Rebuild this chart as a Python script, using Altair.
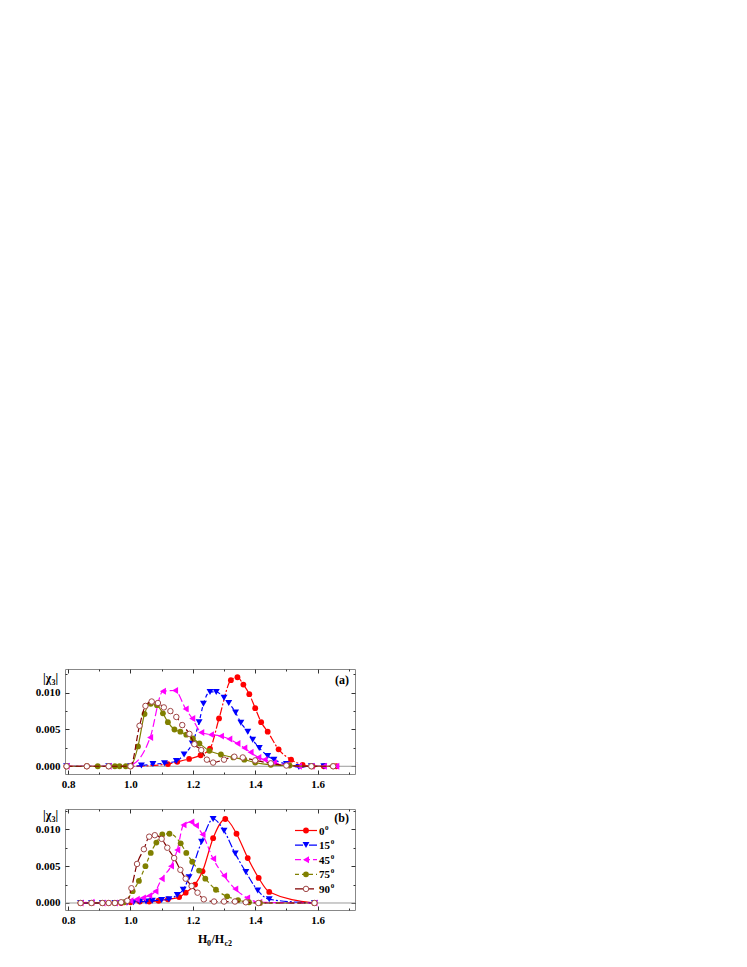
import altair as alt
import pandas as pd

FONT = "Liberation Serif"

# ---------------- data: panel (a) ----------------
a_x_0 = [0.795, 0.86, 1.0, 1.12, 1.15, 1.188, 1.225, 1.255, 1.284, 1.322, 1.343, 1.362, 1.381, 1.40, 1.419, 1.44, 1.475, 1.515, 1.552, 1.584, 1.62, 1.66]
a_y_0 = [0, 0, 0, 0.0003, 0.0006, 0.0010, 0.0015, 0.0024, 0.0065, 0.0117, 0.0121, 0.0111, 0.0098, 0.0079, 0.0060, 0.0047, 0.0023, 0.0009, 0.0002, 0.0, 0, 0]

a_x_15 = [0.795, 0.93, 1.0, 1.035, 1.072, 1.109, 1.147, 1.172, 1.198, 1.22, 1.234, 1.255, 1.275, 1.30, 1.315, 1.337, 1.354, 1.376, 1.392, 1.413, 1.44, 1.46, 1.50, 1.54, 1.58, 1.62]
a_y_15 = [0, 0, 0, 0.0001, 0.0003, 0.0004, 0.0007, 0.0016, 0.0031, 0.0060, 0.0085, 0.0101, 0.0101, 0.0093, 0.0086, 0.0073, 0.0059, 0.0047, 0.0036, 0.0025, 0.0014, 0.0009, 0.0003, -0.0001, 0, 0]

a_x_45 = [0.795, 0.93, 1.0, 1.063, 1.104, 1.143, 1.177, 1.198, 1.227, 1.258, 1.29, 1.317, 1.343, 1.365, 1.385, 1.41, 1.43, 1.46, 1.50, 1.54, 1.58, 1.62, 1.66]
a_y_45 = [0, 0, 0.0002, 0.0039, 0.0102, 0.0103, 0.0078, 0.0065, 0.0046, 0.0043, 0.0041, 0.0037, 0.0031, 0.0025, 0.0019, 0.0012, 0.0009, 0.0005, 0.0002, 0, 0, 0, 0]

a_x_75 = [0.795, 0.86, 0.895, 0.93, 0.95, 0.965, 0.985, 1.0, 1.024, 1.045, 1.065, 1.085, 1.104, 1.12, 1.141, 1.16, 1.179, 1.2, 1.221, 1.253, 1.29, 1.33, 1.365, 1.40, 1.45, 1.51, 1.58, 1.65]
a_y_75 = [0, 0, 0, 0, 0, 0, 0, 0, 0.0027, 0.0071, 0.0085, 0.0083, 0.0072, 0.0060, 0.0050, 0.0047, 0.0043, 0.0038, 0.0031, 0.0021, 0.0016, 0.0012, 0.0009, 0.0005, 0.0002, 0.0001, 0, 0]

a_x_90 = [0.795, 0.86, 0.93, 1.0, 1.029, 1.048, 1.068, 1.088, 1.107, 1.128, 1.147, 1.166, 1.189, 1.205, 1.227, 1.245, 1.265, 1.30, 1.333, 1.36, 1.40, 1.45, 1.50, 1.58, 1.65]
a_y_90 = [0, 0, 0, 0, 0.0055, 0.0082, 0.0088, 0.0086, 0.0080, 0.0075, 0.0067, 0.0056, 0.0044, 0.0030, 0.0022, 0.0009, 0.0005, 0.0009, 0.0013, 0.0012, 0.0008, 0.0004, 0.0001, 0, 0]

# ---------------- data: panel (b) ----------------
b_x_0 = [0.84, 0.875, 0.91, 0.93, 0.95, 0.97, 1.0, 1.03, 1.06, 1.09, 1.12, 1.156, 1.177, 1.207, 1.231, 1.265, 1.304, 1.34, 1.376, 1.411, 1.445, 1.59]
b_y_0 = [0, 0, 0, 0, 0, 0, 0.0001, 0.0002, 0.0002, 0.0003, 0.0005, 0.0008, 0.0014, 0.0025, 0.0043, 0.0088, 0.0114, 0.0094, 0.0061, 0.0034, 0.0015, 0]

b_x_15 = [0.84, 0.875, 0.91, 0.95, 0.97, 0.99, 1.01, 1.03, 1.05, 1.07, 1.10, 1.123, 1.15, 1.169, 1.188, 1.228, 1.265, 1.30, 1.336, 1.37, 1.408, 1.445, 1.59]
b_y_15 = [0, 0, 0, 0, 0, 0.0001, 0.0001, 0.0002, 0.0002, 0.0003, 0.0004, 0.0005, 0.0011, 0.0018, 0.0035, 0.0083, 0.0114, 0.0098, 0.0067, 0.0042, 0.0017, 0.0005, 0]

b_x_45 = [0.84, 0.875, 0.91, 0.95, 0.98, 1.0, 1.02, 1.04, 1.06, 1.08, 1.10, 1.13, 1.15, 1.17, 1.195, 1.21, 1.231, 1.265, 1.30, 1.336, 1.374, 1.413, 1.59]
b_y_45 = [0, 0.0001, 0, 0, 0.0001, 0.0003, 0.0005, 0.0007, 0.0010, 0.0016, 0.0033, 0.0050, 0.0072, 0.0106, 0.0110, 0.0105, 0.0093, 0.0060, 0.0037, 0.0019, 0.0007, 0.0001, 0]

b_x_75 = [0.84, 0.875, 0.91, 0.95, 0.98, 1.007, 1.027, 1.048, 1.065, 1.083, 1.102, 1.125, 1.161, 1.179, 1.198, 1.22, 1.24, 1.274, 1.31, 1.345, 1.38, 1.415, 1.59]
b_y_75 = [0, 0, 0, 0, 0.0001, 0.0016, 0.0030, 0.0050, 0.0068, 0.0082, 0.0093, 0.0094, 0.0081, 0.0068, 0.0056, 0.0044, 0.0033, 0.0018, 0.0009, 0.0004, 0.0001, 0, 0]

b_x_90 = [0.84, 0.875, 0.91, 0.93, 0.95, 0.97, 0.99, 1.003, 1.021, 1.043, 1.06, 1.078, 1.10, 1.118, 1.14, 1.16, 1.177, 1.196, 1.215, 1.235, 1.268, 1.30, 1.335, 1.37, 1.41, 1.59]
b_y_90 = [0, 0, 0, 0, 0, 0.0001, 0.0003, 0.0020, 0.0053, 0.0073, 0.0090, 0.0092, 0.0087, 0.0075, 0.0061, 0.0045, 0.0033, 0.0023, 0.0014, 0.0005, 0.0002, 0.0002, 0.0002, 0.0001, 0, 0]

labels = ["0", "15", "45", "75", "90"]
colors = ["#FF0000", "#0000FF", "#FF00FF", "#808000", "#800000"]
shapes = ["circle", "triangle-down", "triangle-left", "circle", "circle"]
filled = [True, True, True, True, False]
sizes = [34, 48, 48, 34, 30]
dash_a = [[8, 2, 2, 2], [4, 3], [8, 3], None, [6, 3]]
dash_b = [None, [8, 2, 2, 2], [6, 3], [4, 3], [8, 3]]

x_ticks_major = [0.8, 1.0, 1.2, 1.4, 1.6]
x_ticks_minor = [0.9, 1.1, 1.3, 1.5, 1.7]
y_ticks_major = [0.0, 0.005, 0.010]
y_ticks_minor = [0.0025, 0.0075, 0.0125]

W = 290
one = pd.DataFrame({"k": [0]})


def point_kw(i):
    kw = dict(shape=shapes[i], filled=filled[i], color=colors[i], size=sizes[i], opacity=1, strokeWidth=1)
    if not filled[i]:
        kw["color"] = "#a04848"
        kw["fill"] = "white"
        kw["fillOpacity"] = 1
    return kw


def series_layers(xv, yv, i, dash, xsc, ysc):
    df = pd.DataFrame({"x": xv, "y": yv})
    base = alt.Chart(df).encode(
        x=alt.X("x:Q", scale=xsc, axis=None),
        y=alt.Y("y:Q", scale=ysc, axis=None),
    )
    lkw = dict(color=colors[i], strokeWidth=1.2, interpolate="monotone")
    if dash is not None:
        lkw["strokeDash"] = dash
    line = base.mark_line(**lkw)
    pts = base.mark_point(**point_kw(i))
    return [line, pts]


def axis_layers(xsc, ysc):
    df = pd.DataFrame({"x": [1.0], "y": [0.0]})
    layers = []
    common = dict(domain=False, grid=False, title=None, tickColor="#333",
                  labelFont=FONT, labelFontWeight="bold", labelFontSize=11,
                  labelColor="black", labelFlush=False, labelOverlap=False)
    for orient in ["bottom", "top"]:
        for major in [True, False]:
            ax = alt.Axis(orient=orient, values=x_ticks_major if major else x_ticks_minor,
                          tickSize=4 if major else 2, offset=-4 if major else -2,
                          labels=(orient == "bottom" and major), format=".1f",
                          labelPadding=4, **common)
            layers.append(alt.Chart(df).mark_point(opacity=0).encode(
                x=alt.X("x:Q", scale=xsc, axis=ax),
                y=alt.Y("y:Q", scale=ysc, axis=None)))
    for orient in ["left", "right"]:
        for major in [True, False]:
            ax = alt.Axis(orient=orient, values=y_ticks_major if major else y_ticks_minor,
                          tickSize=4 if major else 2, offset=-4 if major else -2,
                          labels=(orient == "left" and major), format=".3f",
                          labelPadding=5, **common)
            layers.append(alt.Chart(df).mark_point(opacity=0).encode(
                x=alt.X("x:Q", scale=xsc, axis=None),
                y=alt.Y("y:Q", scale=ysc, axis=ax)))
    return layers


def txt(t, x, y, size=12, align="left", baseline="alphabetic"):
    return alt.Chart(one).mark_text(text=t, font=FONT, fontWeight="bold", fontSize=size,
                                    align=align, baseline=baseline, color="black").encode(
        x=alt.value(x), y=alt.value(y))


def panel(series, dashes, ydom, height, tag, tag_y, ytitle_y, legend=False, xtitle=False):
    xsc = alt.Scale(domain=[0.79, 1.72], nice=False, zero=False)
    ysc = alt.Scale(domain=ydom, nice=False, zero=False)
    layers = []
    layers.append(alt.Chart(one).mark_rule(color="#9a9a9a", strokeWidth=1).encode(
        y=alt.Y(datum=0, scale=ysc, axis=None)))
    for i, (xv, yv) in enumerate(series):
        layers += series_layers(xv, yv, i, dashes[i], xsc, ysc)
    layers += axis_layers(xsc, ysc)
    layers.append(txt(tag, 284, tag_y, size=12, align="right", baseline="middle"))
    # y title |chi_3|
    layers.append(txt("|χ", -22, ytitle_y, size=12))
    layers.append(txt("3", -13.5, ytitle_y + 3, size=8))
    layers.append(txt("|", -9.5, ytitle_y, size=12))
    if legend:
        for i, lab in enumerate(labels):
            yy = 21.5 + 14.6 * i
            rkw = dict(color=colors[i], strokeWidth=1.2)
            if dashes[i] is not None:
                rkw["strokeDash"] = dashes[i]
            layers.append(alt.Chart(one).mark_rule(**rkw).encode(
                x=alt.value(230), x2=alt.value(252), y=alt.value(yy)))
            layers.append(alt.Chart(one).mark_point(**point_kw(i)).encode(
                x=alt.value(241), y=alt.value(yy)))
            layers.append(txt(lab, 254, yy + 4, size=11))
            layers.append(txt("0", 254 + 5.6 * len(lab) + 0.5, yy - 1, size=7))
    if xtitle:
        ty = 134
        layers.append(txt("H", 133, ty, size=12))
        layers.append(txt("0", 142, ty + 3, size=8))
        layers.append(txt("/H", 146.5, ty, size=12))
        layers.append(txt("c2", 159.5, ty + 3, size=8))
    return alt.layer(*layers).resolve_axis(x="independent", y="independent").properties(
        width=W, height=height)


pa = panel([(a_x_0, a_y_0), (a_x_15, a_y_15), (a_x_45, a_y_45), (a_x_75, a_y_75), (a_x_90, a_y_90)],
           dash_a, [-0.00105, 0.01322], 105, "(a)", 11, 13)
pb = panel([(b_x_0, b_y_0), (b_x_15, b_y_15), (b_x_45, b_y_45), (b_x_75, b_y_75), (b_x_90, b_y_90)],
           dash_b, [-0.00095, 0.012755], 101, "(b)", 9, 10, legend=True, xtitle=True)

chart = alt.vconcat(pa, pb, spacing=18).properties(
    padding={"left": 26, "top": 660, "right": 5, "bottom": 5}
).configure_view(stroke="#888888", strokeWidth=1)

chart.save("out.html", embed_options={"renderer": "svg", "actions": False})
